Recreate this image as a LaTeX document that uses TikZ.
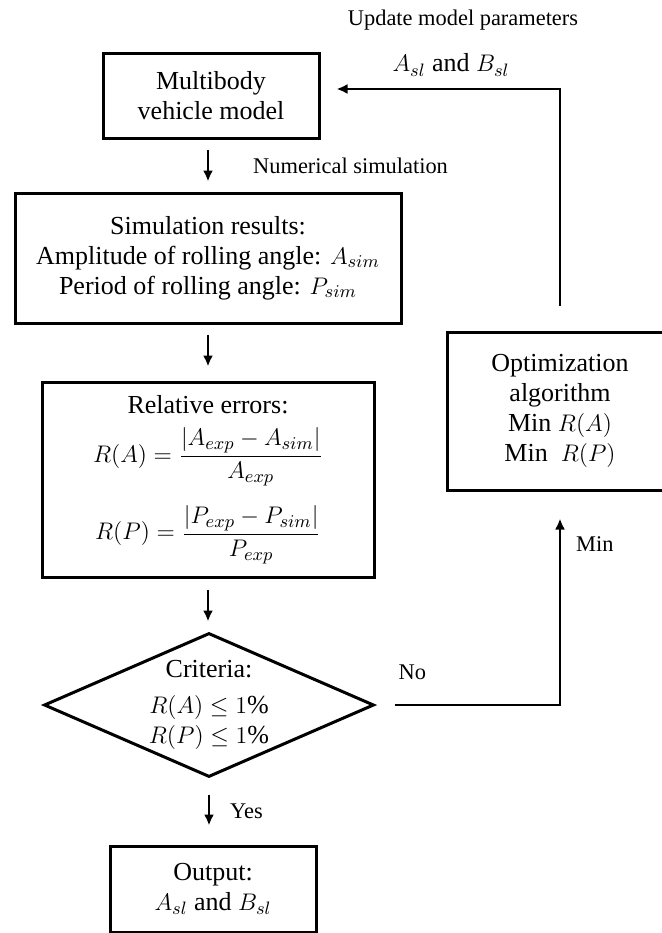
\documentclass[tikz,border=0pt]{standalone}
\usepackage{fontspec}
\setmainfont{Liberation Serif}
\usetikzlibrary{arrows.meta, positioning, shapes.geometric}

\begin{document}
\begin{tikzpicture}[
    x=0.5pt, y=-0.5pt,
    % Define styles
    flowbox/.style={rectangle, draw=black, line width=1.5pt, align=center, inner sep=2pt, font=\fontsize{13}{15}\selectfont},
    decision/.style={diamond, draw=black, line width=1.5pt, align=center, inner sep=0pt, aspect=2.3, minimum width=165pt, minimum height=72pt, font=\fontsize{13}{15}\selectfont},
    lbl/.style={inner sep=0pt, font=\fontsize{11.2}{13}\selectfont},
    txt/.style={inner sep=0pt, font=\fontsize{13}{15}\selectfont},
    arrow/.style={-{Latex[length=5.5pt, width=5pt]}, line width=1.2pt, draw=black}
]
    \useasboundingbox (0,0) rectangle (662,933);
    \clip (0,0) rectangle (662,933);

    % 1. Main chain
    \node[flowbox, minimum width=108pt, minimum height=42.5pt] (model) at (211,95.5) {Multibody\\vehicle model};
    \node[flowbox, minimum width=193pt, minimum height=65pt] (results) at (208,258) {Simulation results:\\Amplitude of rolling angle: $A_{sim}$\\Period of rolling angle: $P_{sim}$};
    \node[flowbox, minimum width=166pt, minimum height=97.5pt] (errors) at (208,479.5) {Relative errors:\\[6pt]$\displaystyle R(A)=\frac{|A_{exp}-A_{sim}|}{A_{exp}}$\\[9pt]$\displaystyle R(P)=\frac{|P_{exp}-P_{sim}|}{P_{exp}}$};
    \node[decision] (crit) at (209,705) {Criteria:\\[3pt]$R(A)\leq 1\%$\\$R(P)\leq 1\%$};
    \node[flowbox, minimum width=103pt, minimum height=43pt] (output) at (213,889) {Output:\\$A_{sl}$ and $B_{sl}$};

    % 2. Optimization loop
    \node[flowbox, minimum width=113pt, minimum height=79pt] (opt) at (560,411) {Optimization\\algorithm\\Min $R(A)$\\Min\ \ $R(P)$};
    \node[lbl] (update) at (463,20) {Update model parameters};
    \node[txt] (params) at (451,65) {$A_{sl}$ and $B_{sl}$};

    % 3. Connections
    \draw[arrow, shorten <=5pt, shorten >=5pt] (results.north |- model.south) -- (results.north) node[lbl, midway, right=22pt] {Numerical simulation};
    \draw[arrow, shorten <=5pt, shorten >=7pt] (results.south) -- (errors.north);
    \draw[arrow, shorten <=5.5pt, shorten >=5pt] (errors.south) -- (errors.south |- crit.north);
    \draw[arrow, shorten <=8pt, shorten >=9.5pt] (crit.south) -- (crit.south |- output.north) node[lbl, midway, right=10pt] {Yes};

    % No -> optimization -> back to the model
    \draw[arrow, shorten <=9.5pt, shorten >=13.5pt] (crit.east) -| (opt.south)
        node[lbl, pos=0.1, above=12pt] {No}
        node[lbl, pos=0.876, right=7.5pt] {Min};
    \draw[arrow, shorten <=12.5pt, shorten >=8pt] (opt.north) |- ([yshift=3.25pt]model.east);

\end{tikzpicture}
\end{document}
